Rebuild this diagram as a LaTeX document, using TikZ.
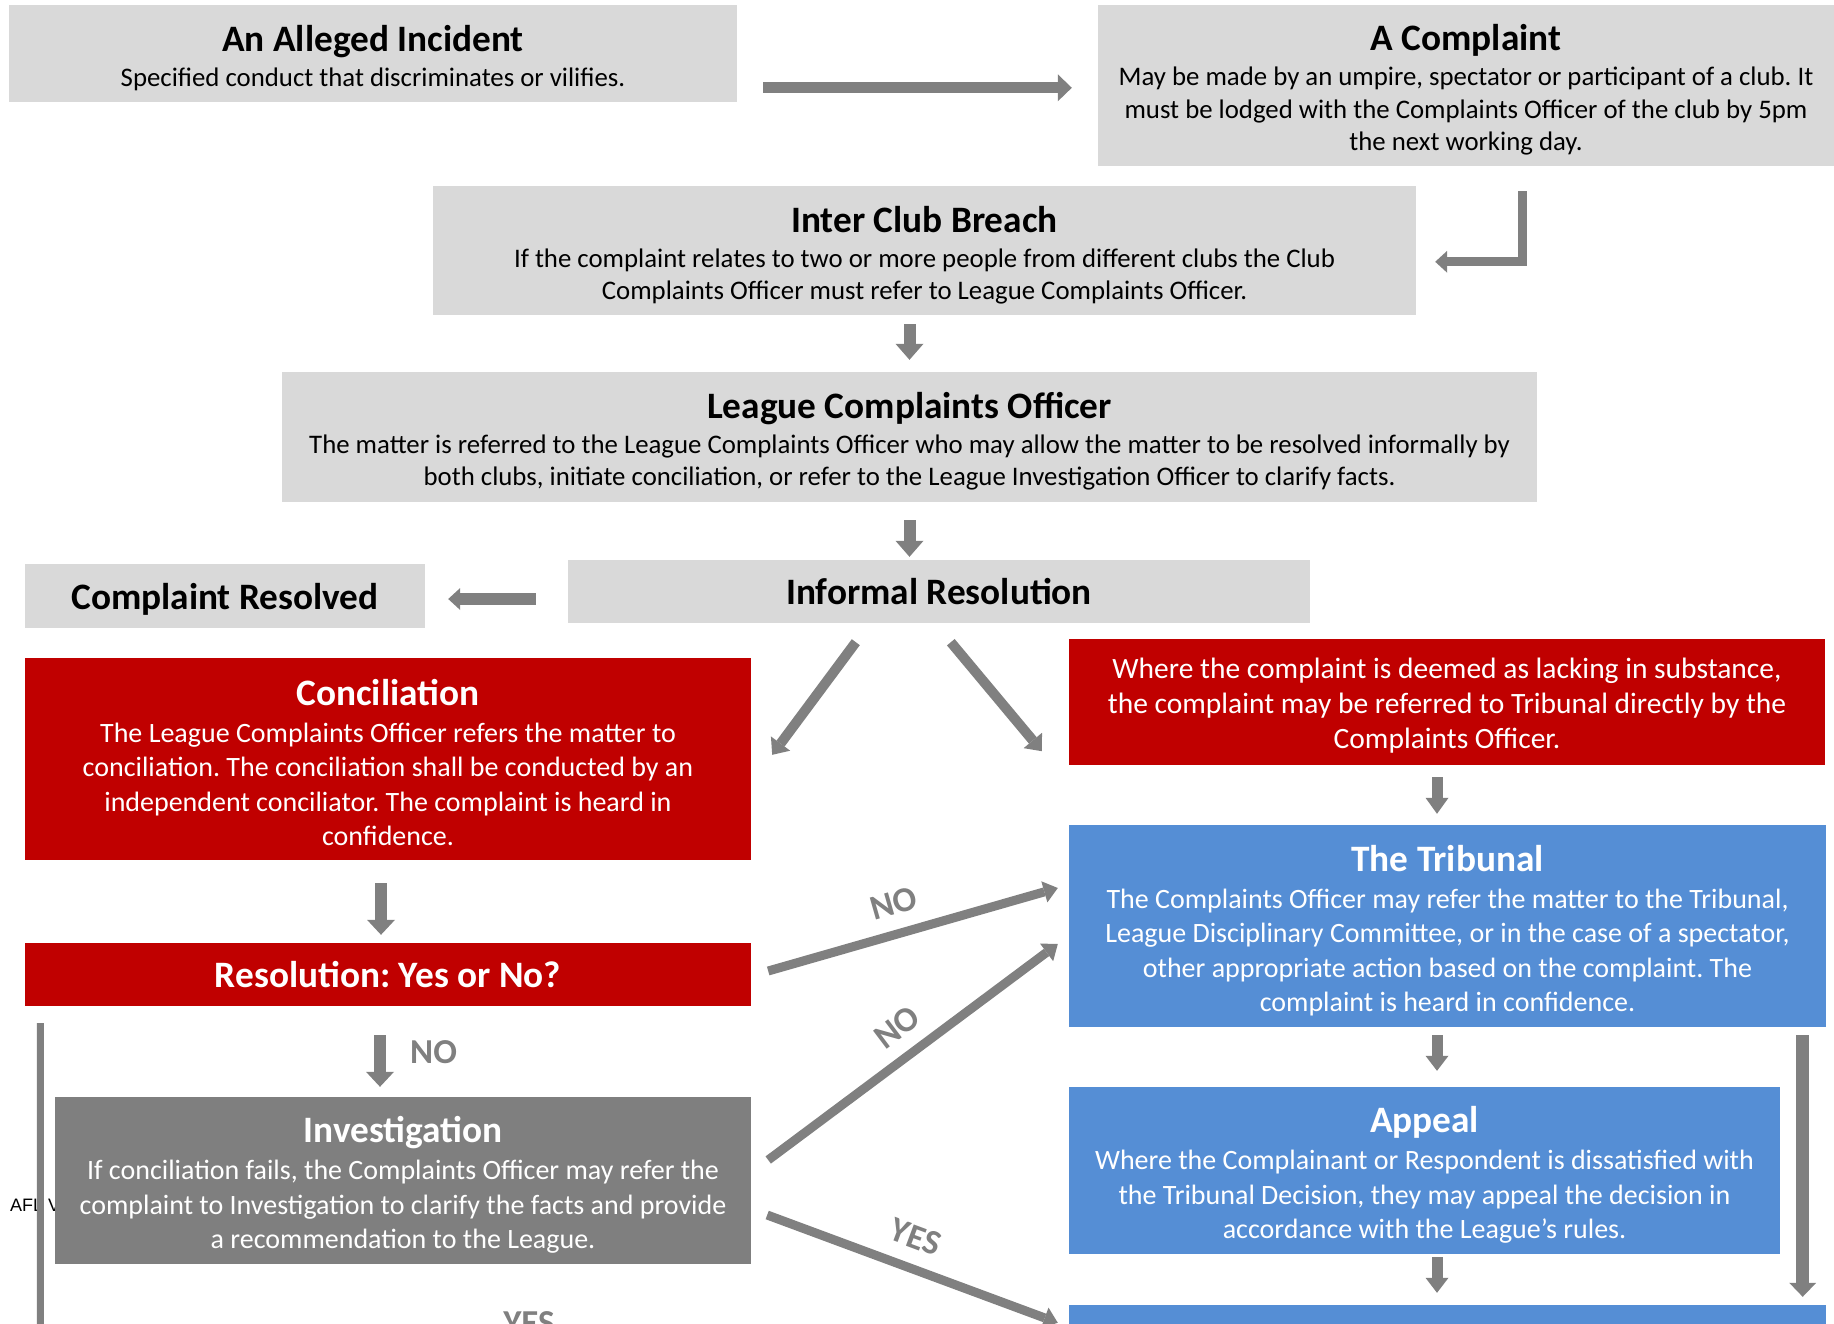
\documentclass[tikz,border=0pt]{standalone}
\usepackage{fontspec}
\setmainfont{Carlito}
\newfontfamily\arialf{Liberation Sans}
\usetikzlibrary{arrows.meta,calc}
\definecolor{boxgray}{HTML}{D9D9D9}
\definecolor{bred}{HTML}{C00000}
\definecolor{bblue}{HTML}{558ED5}
\definecolor{dgray}{HTML}{7F7F7F}
\definecolor{agray}{HTML}{808080}
\setlength{\parindent}{0pt}
\frenchspacing
\newcommand{\ttl}{\fontsize{37.3}{44}\selectfont\bfseries}
\newcommand{\bdy}{\fontsize{28}{34.5}\selectfont}
\newcommand{\bdyw}{\fontsize{29.5}{35}\selectfont}
\newcommand{\bdys}{\fontsize{26.8}{32.5}\selectfont}
\newcommand{\boxtitle}[1]{{\ttl #1\par}\vskip2.5pt\relax}
\newcommand{\boxtext}[3][9pt]{\begin{minipage}{#2}\vspace*{#1}\centering #3\par\end{minipage}}
\tikzset{
  bx/.style={rectangle, inner sep=0pt},
  grayb/.style={bx, fill=boxgray, text=black},
  redb/.style={bx, fill=bred, text=white},
  blueb/.style={bx, fill=bblue, text=white},
  darkb/.style={bx, fill=dgray, text=white},
  blk/.style n args={3}{draw=agray, line width=#1, -{Triangle[length=#3,width=#2,line width=0pt]}},
  lbl/.style={text=agray, font=\fontsize{35}{42}\selectfont\bfseries, inner sep=0pt},
}
\begin{document}
\begin{tikzpicture}[x=1pt,y=-1pt]
\useasboundingbox (0,0) rectangle (1834,1324);
\fill[white] (0,0) rectangle (1834,1324);

% hidden side text
\node[font=\arialf\fontsize{18}{22}\selectfont, anchor=base west, inner sep=0pt] (afl) at (10,1211) {AFL V};

% boxes
\node[grayb, minimum width=728pt, minimum height=97pt] (inc) at (373,53.5)
  {\boxtext{720pt}{\boxtitle{An Alleged Incident}\bdys Specified conduct that discriminates or vilifies.}};
\node[grayb, minimum width=736pt, minimum height=161pt] (comp) at (1466,85.5)
  {\boxtext{730pt}{\boxtitle{A Complaint}\bdys May be made by an umpire, spectator or participant of a club. It\\must be lodged with the Complaints Officer of the club by 5pm\\the next working day.}};
\node[grayb, minimum width=983pt, minimum height=129pt] (icb) at (924.5,250.5)
  {\boxtext{975pt}{\boxtitle{Inter Club Breach}\bdys If the complaint relates to two or more people from different clubs the Club\\Complaints Officer must refer to League Complaints Officer.}};
\node[grayb, minimum width=1255pt, minimum height=130pt] (lco) at (909.5,437)
  {\boxtext[8pt]{1250pt}{\boxtitle{League Complaints Officer}\bdys The matter is referred to the League Complaints Officer who may allow the matter to be resolved informally by\\both clubs, initiate conciliation, or refer to the League Investigation Officer to clarify facts.}};
\node[grayb, minimum width=742pt, minimum height=63pt, font=\ttl, text depth=0pt] (ir) at (939,591.5) {Informal Resolution};
\node[grayb, minimum width=400pt, minimum height=64pt, font=\ttl, text depth=0pt] (cr) at (225,596) {Complaint Resolved};
\node[redb, minimum width=756pt, minimum height=126pt] (where) at (1447,702)
  {\boxtext[7pt]{750pt}{\bdyw Where the complaint is deemed as lacking in substance,\\the complaint may be referred to Tribunal directly by the\\Complaints Officer.}};
\node[redb, minimum width=726pt, minimum height=202pt] (conc) at (388,759)
  {\boxtext[7pt]{720pt}{\boxtitle{Conciliation}\bdy The League Complaints Officer refers the matter to\\conciliation. The conciliation shall be conducted by an\\independent conciliator. The complaint is heard in\\confidence.}};
\node[blueb, minimum width=757pt, minimum height=202pt] (trib) at (1447.5,926)
  {\boxtext{750pt}{\boxtitle{The Tribunal}\bdy The Complaints Officer may refer the matter to the Tribunal,\\League Disciplinary Committee, or in the case of a spectator,\\other appropriate action based on the complaint. The\\complaint is heard in confidence.}};
\node[redb, minimum width=726pt, minimum height=63pt, font=\ttl, text depth=0pt] (res) at (388,974.5) {Resolution: Yes or No?};

\coordinate (barTop) at ($(res.south west)+(15.5,17)$);
\coordinate (barBot) at (40.5,1345);
\draw[agray, line width=7pt] (barTop) -- (barBot);

\node[darkb, minimum width=696pt, minimum height=167pt] (inv) at (403,1180.5)
  {\boxtext{690pt}{\boxtitle{Investigation}\bdy If conciliation fails, the Complaints Officer may refer the\\complaint to Investigation to clarify the facts and provide\\a recommendation to the League.}};
\node[blueb, minimum width=711pt, minimum height=167pt] (appeal) at (1424.5,1170.5)
  {\boxtext{705pt}{\boxtitle{Appeal}\bdy Where the Complainant or Respondent is dissatisfied with\\the Tribunal Decision, they may appeal the decision in\\accordance with the League’s rules.}};
\node[blueb, minimum width=757pt, minimum height=60pt] (final) at (1447.5,1335) {};

% arrows
\draw[blk={11pt}{27pt}{14pt}] ($(inc.north east)+(26,83)$) -- ($(comp.north west)+(-26,83)$);
\draw[blk={9pt}{22pt}{12pt}] ($(comp.south west)+(425,25)$) |- ($(icb.north east)+(19,76)$);
\draw[blk={12pt}{28pt}{16pt}] ($(icb.south -| lco.north)+(0,9)$) -- ($(lco.north)+(0,-12)$);
\draw[blk={12pt}{28pt}{16pt}] ($(lco.south)+(0,18)$) -- ($(lco.south |- ir.north)+(0,-3)$);
\draw[blk={12pt}{22pt}{12pt}] ($(ir.west)+(-32,7.5)$) -- ($(cr.east)+(23,3)$);
\draw[blk={10pt}{24pt}{14pt}] ($(ir.south west)+(288,19)$) -- ($(conc.north east)+(21,97)$);
\draw[blk={10pt}{24pt}{14pt}] ($(ir.south west)+(383,19)$) -- ($(where.south west)+(-27,-14)$);
\draw[blk={11pt}{23pt}{16pt}] ($(where.south)+(-10,12)$) -- ($(trib.north)+(-10.5,-11)$);
\draw[blk={12pt}{28pt}{15pt}] ($(conc.south)+(-7,23)$) -- ($(res.north)+(-7,-8)$);
\draw[blk={12pt}{28pt}{15pt}] ($(res.south)+(-8,29)$) -- ($(inv.north)+(-23,-10)$);
\draw[blk={9pt}{22pt}{14pt}] ($(res.east)+(17,-3.5)$) -- ($(trib.west)+(-11,-38)$);
\draw[blk={9pt}{22pt}{14pt}] ($(inv.east)+(17,-20.5)$) -- ($(trib.west)+(-11,18)$);
\draw[blk={9pt}{22pt}{14pt}] ($(inv.east)+(16,34.5)$) -- ($(final.north west)+(-11,18)$);
\draw[blk={11pt}{23pt}{15pt}] ($(trib.south)+(-10.5,8)$) -- ($(appeal.north)+(12.5,-16)$);
\draw[blk={11pt}{23pt}{15pt}] ($(appeal.south)+(12.5,3)$) -- ($(final.north)+(-10.5,-12)$);
\draw[blk={13pt}{27pt}{14pt}] ($(trib.south east)+(-23.5,8)$) -- ($(final.north east)+(-23.5,-8)$);

% labels
\node[lbl, anchor=west] (no0) at (410,1052) {NO};
\node[lbl, rotate=16] (no1) at (894,903) {NO};
\node[lbl, rotate=37] (no2) at (897,1027) {NO};
\node[lbl, rotate=-20.4] (yes1) at (916,1237) {YES};
\node[lbl, anchor=base] (yes2) at (529,1334.5) {YES};
\end{tikzpicture}
\end{document}
